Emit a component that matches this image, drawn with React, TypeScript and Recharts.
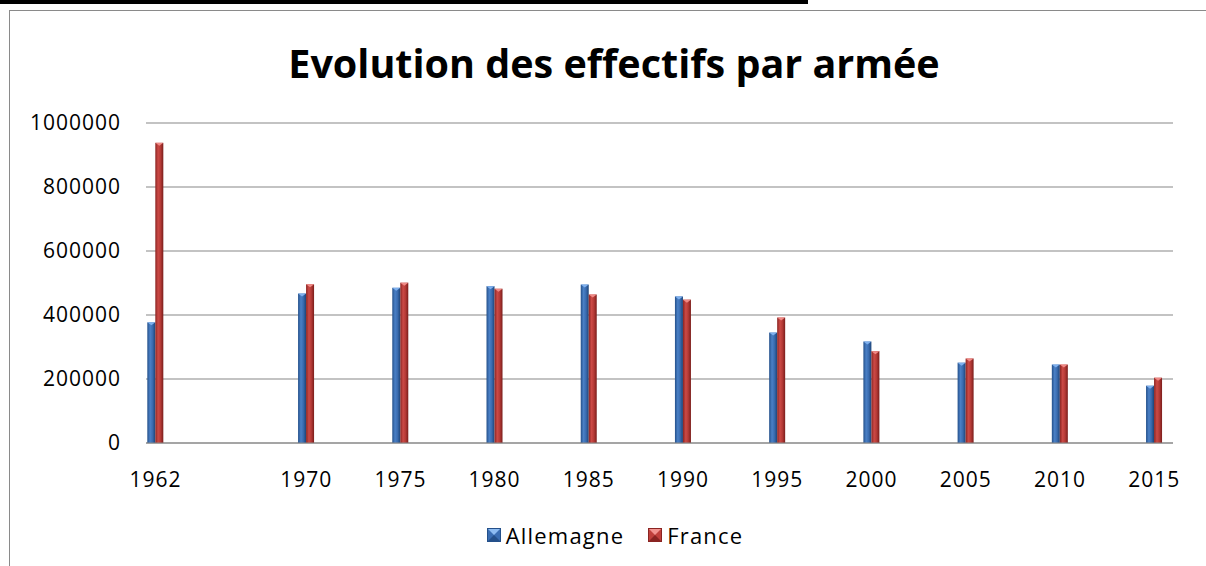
import React from 'react';
import { BarChart, Bar, XAxis, YAxis, CartesianGrid, Legend } from 'recharts';

const years = [1962, 1970, 1975, 1980, 1985, 1990, 1995, 2000, 2005, 2010, 2015];
const allemagne = [377000, 467000, 485000, 490000, 495000, 458000, 345000, 317000, 251000, 245000, 179000];
const france = [938000, 496000, 501000, 482000, 464000, 448000, 392000, 287000, 264000, 245000, 204000];
const yTicks = [0, 200000, 400000, 600000, 800000, 1000000];
const seriesNames = ['Allemagne', 'France'];
const chartTitle = 'Evolution des effectifs par armée';

const data = years.map((y, i) => ({ year: y, [seriesNames[0]]: allemagne[i], [seriesNames[1]]: france[i] }));

const FONT = '"Open Sans", "Noto Sans", sans-serif';

const BarShape = (props: any) => {
  const { x, y, width, height, gid, cap } = props;
  if (!height || height <= 0) return null;
  return (
    <g>
      <rect x={x} y={y} width={width} height={height} fill={`url(#${gid})`} />
      <polygon points={`${x},${y} ${x + width},${y} ${x + width / 2},${y + 3}`} fill={cap} />
    </g>
  );
};

const legendColors = [
  { light: '#8dbcf2', mid: '#3a6db2', dark: '#24508a' },
  { light: '#f29490', mid: '#c0403c', dark: '#8a2422' },
];

const LegendContent = () => (
  <div style={{ display: 'flex', justifyContent: 'center', alignItems: 'center', fontFamily: FONT, fontSize: 22, letterSpacing: 1.2, color: '#000', paddingLeft: 24 }}>
    {seriesNames.map((n, i) => {
      const c = legendColors[i];
      return (
        <div key={n} style={{ display: 'flex', alignItems: 'center', marginRight: i === 0 ? 24 : 0 }}>
          <svg width={14} height={14} style={{ display: 'block', marginRight: 5, flexShrink: 0 }}>
            <rect x={0} y={0} width={14} height={14} fill={c.mid} />
            <polygon points="0,0 14,0 7,7" fill={c.light} />
            <polygon points="0,14 14,14 7,7" fill={c.dark} />
            <rect x={0.5} y={0.5} width={13} height={13} fill="none" stroke={c.dark} strokeWidth={1} />
          </svg>
          <span>{n}</span>
        </div>
      );
    })}
  </div>
);

export default function App() {
  return (
    <div style={{ position: 'fixed', left: 0, top: 0, width: 1206, height: 566, overflow: 'hidden', background: '#fff' }}>
      <div style={{ position: 'absolute', left: 0, top: 0, width: 808, height: 4, background: '#000' }} />
      <div style={{ position: 'absolute', left: 9, top: 10, width: 1300, height: 700, border: '1px solid #8a8a8a' }} />
      <div style={{ position: 'absolute', left: 0, top: 37, width: 1228, textAlign: 'center', fontFamily: FONT, fontWeight: 700, fontSize: 39.5, color: '#000', lineHeight: '52px' }}>
        {chartTitle}
      </div>
      <div style={{ position: 'absolute', left: 0, top: 0 }}>
        <BarChart width={1206} height={566} data={data} margin={{ top: 123, right: 33, bottom: 93, left: 0 }} barGap={0} barSize={8}>
          <defs>
            <linearGradient id="gBlue" x1="0" y1="0" x2="1" y2="0">
              <stop offset="0%" stopColor="#24508a" />
              <stop offset="35%" stopColor="#4a80c6" />
              <stop offset="65%" stopColor="#3a6cb0" />
              <stop offset="100%" stopColor="#1d4478" />
            </linearGradient>
            <linearGradient id="gRed" x1="0" y1="0" x2="1" y2="0">
              <stop offset="0%" stopColor="#8a2422" />
              <stop offset="35%" stopColor="#cc4a46" />
              <stop offset="65%" stopColor="#b53a36" />
              <stop offset="100%" stopColor="#7a1d1b" />
            </linearGradient>
          </defs>
          <CartesianGrid horizontal vertical={false} stroke="#888888" strokeWidth={1.2} />
          <XAxis
            dataKey="year"
            type="number"
            domain={[1961.5, 2015.5]}
            ticks={years}
            allowDecimals={false}
            height={30}
            tickLine={false}
            tickMargin={23}
            axisLine={{ stroke: '#888888', strokeWidth: 1.2 }}
            tick={{ fill: '#000', fontSize: 21, fontFamily: FONT, letterSpacing: 1 }}
            interval={0}
          />
          <YAxis
            type="number"
            domain={[0, 1000000]}
            ticks={yTicks}
            width={146}
            tickLine={false}
            axisLine={false}
            tickMargin={19}
            tick={{ fill: '#000', fontSize: 21, fontFamily: FONT, letterSpacing: 1 }}
            interval={0}
          />
          <Legend
            layout="horizontal"
            verticalAlign="middle"
            align="center"
            content={<LegendContent />}
            wrapperStyle={{ top: 520, left: 0, width: 1206 }}
          />
          <Bar dataKey={seriesNames[0]} isAnimationActive={false} shape={(p: any) => <BarShape {...p} gid="gBlue" cap="#7fb0ee" />} />
          <Bar dataKey={seriesNames[1]} isAnimationActive={false} shape={(p: any) => <BarShape {...p} gid="gRed" cap="#f08a86" />} />
        </BarChart>
      </div>
    </div>
  );
}
